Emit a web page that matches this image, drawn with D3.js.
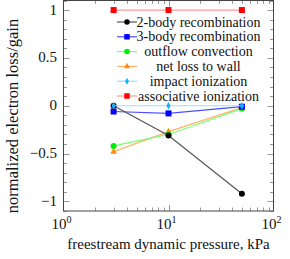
<!DOCTYPE html>
<meta charset="utf-8">
<style>
body { margin: 0; background: #fff; }
</style>
<svg width="290" height="259"></svg>
<script src="https://d3js.org/d3.v7.min.js"></script>
<script>

// freestream dynamic pressure, kPa
var pressure = [3, 10, 50];

var seriesNames = ['2-body recombination', '3-body recombination', 'outflow convection',
                   'net loss to wall', 'impact ionization', 'associative ionization'];

var twoBody     = [0.0, -0.31, -0.92];
var threeBody   = [-0.06, -0.08, -0.01];
var outflow     = [-0.42, -0.30, -0.03];
var wallLoss    = [-0.48, -0.27, -0.02];
var impactIon   = [0.0, 0.0, 0.0];
var assocIon    = [1.0, 1.0, 1.0];

var yTicks = [-1, -0.5, 0, 0.5, 1];
var xTicks = [1, 10, 100];

var markCol = ['#000000', '#0000ff', '#00ee00', '#ff8c1a', '#1ab2ff', '#ff0000'];
var lineCol = ['#555555', '#4d4dff', '#77ff77', '#ffb366', '#99ddff', '#ff9999'];
var shapes = ['circle', 'square', 'circle', 'triangle', 'diamond', 'square'];

var values = [twoBody, threeBody, outflow, wallLoss, impactIon, assocIon];
// draw order so the red line sits at back, black/cyan on top as in the picture
var drawOrder = [5, 3, 2, 1, 0, 4];

var svg = d3.select('svg')
  .attr('font-family', "'Liberation Serif', 'Times New Roman', 'DejaVu Serif', serif");
var m = {l: 63.5, r: 273.5, t: 0.5, b: 211};

var x = d3.scaleLog().domain([1, 100]).range([m.l, m.r]);
var y = d3.scaleLinear().domain([-1.1, 1.1]).range([m.b, m.t]);

var axisCol = '#444', tickCol = '#999';

// minor ticks
var xMinor = [];
[1, 10].forEach(function(d){ for (var k=2; k<10; k++) xMinor.push(d*k); });
var yMinor = d3.range(-11, 12).map(function(d){ return d/10; }).filter(function(d){ return Math.round(d*10) % 5 != 0; });

var g = svg.append('g');

function tickLines(data, major) {
  var len = major ? 6 : 3.5;
  data.forEach(function(d){
    var xp = Math.round(x(d)) + 0.5;
    g.append('line').attr('x1', xp).attr('x2', xp).attr('y1', m.b).attr('y2', m.b - len).attr('stroke', tickCol);
    g.append('line').attr('x1', xp).attr('x2', xp).attr('y1', m.t).attr('y2', m.t + len).attr('stroke', tickCol);
  });
}
function yTickLines(data, major) {
  var len = major ? 6 : 3.5;
  data.forEach(function(d){
    var yp = Math.round(y(d)) + 0.5;
    g.append('line').attr('y1', yp).attr('y2', yp).attr('x1', m.l).attr('x2', m.l + len).attr('stroke', tickCol);
    g.append('line').attr('y1', yp).attr('y2', yp).attr('x1', m.r).attr('x2', m.r - len).attr('stroke', tickCol);
  });
}
tickLines(xMinor, false);
tickLines([10], true);
yTickLines(yMinor, false);
yTickLines(yTicks, true);

g.append('rect')
  .attr('x', m.l).attr('y', m.t)
  .attr('width', m.r - m.l).attr('height', m.b - m.t)
  .attr('fill', 'none').attr('stroke', axisCol).attr('stroke-width', 1);

// tick labels
svg.selectAll('.ylab').data(yTicks).enter().append('text')
  .attr('x', 57).attr('y', function(d){ return y(d) + 4.5; })
  .attr('text-anchor', 'end').attr('font-size', 15).attr('fill', '#111')
  .text(function(d){ return d < 0 ? '\u2212' + Math.abs(d) : d; });

var xl = svg.selectAll('.xlab').data(xTicks).enter().append('text')
  .attr('x', function(d){ return x(d) - 2; }).attr('y', 229)
  .attr('text-anchor', 'middle').attr('font-size', 15).attr('fill', '#111');
xl.append('tspan').text('10');
xl.append('tspan').attr('dy', -6).attr('font-size', 10)
  .text(function(d){ return Math.round(Math.log10(d)); });

svg.append('text').attr('x', (m.l + m.r)/2).attr('y', 249)
  .attr('text-anchor', 'middle').attr('font-size', 15).attr('fill', '#111')
  .text('freestream dynamic pressure, kPa');

svg.append('text').attr('transform', 'translate(18,116) rotate(-90)')
  .attr('text-anchor', 'middle').attr('font-size', 16.5).attr('fill', '#111')
  .text('normalized electron loss/gain');

// markers
function marker(sel, shape, col, size) {
  if (shape == 'circle') {
    sel.append('circle').attr('r', size*0.5).attr('fill', col);
  } else if (shape == 'square') {
    sel.append('rect').attr('x', -size/2).attr('y', -size/2).attr('width', size).attr('height', size).attr('fill', col);
  } else if (shape == 'triangle') {
    sel.append('path').attr('d', d3.symbol(d3.symbolTriangle, size*size*0.55)).attr('fill', col);
  } else {
    sel.append('path').attr('d', d3.symbol(d3.symbolDiamond, size*size*0.45)).attr('fill', col);
  }
}

var line = d3.line().x(function(d){ return x(d[0]); }).y(function(d){ return y(d[1]); });

drawOrder.forEach(function(i){
  var pts = pressure.map(function(p, j){ return [p, values[i][j]]; });
  svg.append('path').attr('d', line(pts)).attr('fill', 'none')
    .attr('stroke', lineCol[i]).attr('stroke-width', 1.2);
  pts.forEach(function(p){
    var mg = svg.append('g').attr('transform', 'translate(' + x(p[0]) + ',' + y(p[1]) + ')');
    marker(mg, shapes[i], markCol[i], 6);
  });
});

// legend
var lg = svg.append('g');
seriesNames.forEach(function(name, i){
  var ly = 22 + i*14.8;
  lg.append('line').attr('x1', 117).attr('x2', 137).attr('y1', ly).attr('y2', ly)
    .attr('stroke', lineCol[i]).attr('stroke-width', 1.2);
  var mg = lg.append('g').attr('transform', 'translate(127,' + ly + ')');
  marker(mg, shapes[i], markCol[i], 5.5);
  lg.append('text').attr('x', 198.5).attr('y', ly + 4.5)
    .attr('text-anchor', 'middle').attr('font-size', 14).attr('fill', '#111').text(name);
});

</script>
